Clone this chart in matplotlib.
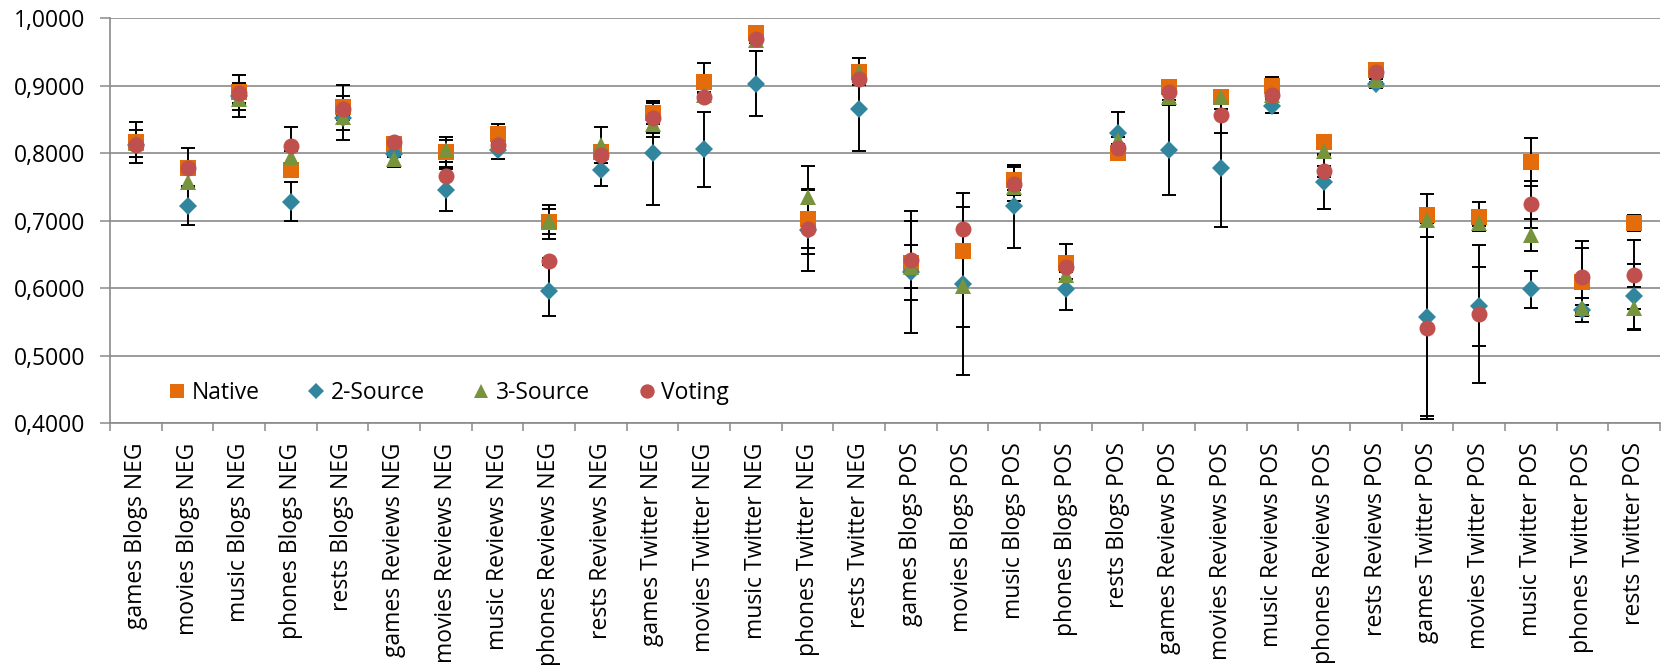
import numpy as np
import matplotlib.pyplot as plt
from matplotlib.lines import Line2D
from matplotlib.ticker import FuncFormatter, FixedLocator

plt.rcParams['font.family'] = ['Open Sans', 'DejaVu Sans']

# categories
labels = ['games Blogs NEG', 'movies Blogs NEG', 'music Blogs NEG', 'phones Blogs NEG', 'rests Blogs NEG',
          'games Reviews NEG', 'movies Reviews NEG', 'music Reviews NEG', 'phones Reviews NEG', 'rests Reviews NEG',
          'games Twitter NEG', 'movies Twitter NEG', 'music Twitter NEG', 'phones Twitter NEG', 'rests Twitter NEG',
          'games Blogs POS', 'movies Blogs POS', 'music Blogs POS', 'phones Blogs POS', 'rests Blogs POS',
          'games Reviews POS', 'movies Reviews POS', 'music Reviews POS', 'phones Reviews POS', 'rests Reviews POS',
          'games Twitter POS', 'movies Twitter POS', 'music Twitter POS', 'phones Twitter POS', 'rests Twitter POS']

# mean values
native = [0.816, 0.778, 0.890, 0.775, 0.868, 0.814, 0.802, 0.829, 0.698, 0.802,
          0.860, 0.906, 0.978, 0.703, 0.921, 0.637, 0.655, 0.760, 0.637, 0.801,
          0.898, 0.884, 0.900, 0.816, 0.923, 0.708, 0.706, 0.787, 0.609, 0.696]
two_src = [0.812, 0.722, 0.885, 0.728, 0.852, 0.799, 0.746, 0.805, 0.596, 0.775,
           0.800, 0.806, 0.903, 0.686, 0.866, 0.624, 0.606, 0.721, 0.599, 0.830,
           0.805, 0.778, 0.870, 0.758, 0.903, 0.557, 0.573, 0.598, 0.567, 0.588]
three_src = [0.815, 0.758, 0.881, 0.794, 0.854, 0.792, 0.805, 0.815, 0.699, 0.812,
             0.844, 0.886, 0.968, 0.735, 0.921, 0.632, 0.603, 0.750, 0.619, 0.819,
             0.884, 0.884, 0.886, 0.804, 0.909, 0.701, 0.697, 0.679, 0.570, 0.570]
voting = [0.812, 0.778, 0.889, 0.811, 0.866, 0.816, 0.766, 0.812, 0.640, 0.797,
          0.852, 0.884, 0.970, 0.687, 0.910, 0.641, 0.688, 0.754, 0.632, 0.807,
          0.891, 0.857, 0.887, 0.773, 0.921, 0.541, 0.562, 0.724, 0.616, 0.620]

# standard deviations (error bars)
native_err = [0.030, 0.005, 0.026, 0.005, 0.033, 0.004, 0.022, 0.014, 0.025, 0.005,
              0.017, 0.027, 0.004, 0.043, 0.005, 0.005, 0.005, 0.022, 0.028, 0.005,
              0.005, 0.005, 0.0125, 0.005, 0.004, 0.032, 0.021, 0.035, 0.050, 0.012]
two_err = [0.005, 0.029, 0.031, 0.029, 0.033, 0.004, 0.031, 0.014, 0.038, 0.023,
           0.077, 0.0555, 0.048, 0.0605, 0.062, 0.090, 0.135, 0.061, 0.032, 0.0305,
           0.067, 0.0875, 0.010, 0.040, 0.007, 0.147, 0.0586, 0.027, 0.0176, 0.048]
three_err = [0.020, 0.009, 0.010, 0.010, 0.005, 0.012, 0.014, 0.005, 0.019, 0.027,
             0.020, 0.005, 0.004, 0.046, 0.0206, 0.032, 0.060, 0.005, 0.005, 0.005,
             0.005, 0.005, 0.005, 0.005, 0.004, 0.005, 0.005, 0.0235, 0.005, 0.032]
voting_err = [0.005, 0.030, 0.015, 0.028, 0.010, 0.004, 0.021, 0.005, 0.005, 0.005,
              0.022, 0.005, 0.004, 0.037, 0.005, 0.059, 0.032, 0.025, 0.005, 0.017,
              0.017, 0.0275, 0.005, 0.008, 0.004, 0.135, 0.102, 0.0345, 0.054, 0.051]

series = [
    ('Native', native, native_err, 's', '#E46C0A', 11.3),
    ('2-Source', two_src, two_err, 'D', '#31859C', 9.0),
    ('3-Source', three_src, three_err, '^', '#77933C', 11.8),
    ('Voting', voting, voting_err, 'o', '#C0504D', 11.5),
]

fig = plt.figure(figsize=(16.61, 6.68), dpi=100)
ax = fig.add_axes([110 / 1661, 1 - 423 / 668, 1550 / 1661, (423 - 18.3) / 668])

x = np.arange(len(labels))

# error bars first, markers on top
for name, vals, err, mk, col, ms in series:
    ax.errorbar(x, vals, yerr=err, fmt='none', ecolor='black', elinewidth=1.4,
                capsize=5, capthick=1.4, zorder=3)

handles = []
for name, vals, err, mk, col, ms in series:
    ax.plot(x, vals, linestyle='none', marker=mk, markersize=ms, color=col,
            markeredgewidth=0, zorder=4)
    handles.append(Line2D([], [], linestyle='none', marker=mk, markersize=ms * 0.9,
                          color=col, markeredgewidth=0, label=name))

ax.set_xlim(-0.5, len(labels) - 0.5)
ax.set_ylim(0.4, 1.0)
ax.set_yticks(np.arange(0.4, 1.0001, 0.1))
ax.yaxis.set_major_formatter(FuncFormatter(lambda v, p: f'{v:.4f}'.replace('.', ',')))
ax.grid(axis='y', color='#8a8a8a', linewidth=1.2, zorder=0)
ax.set_axisbelow(True)

ax.set_xticks(x)
ax.set_xticklabels(labels, rotation=90, va='top', ha='center')
ax.xaxis.set_minor_locator(FixedLocator(np.arange(-0.5, len(labels), 1.0)))
ax.tick_params(axis='x', which='major', length=0, pad=14, labelsize=16.5)
ax.tick_params(axis='x', which='minor', length=6, width=1.1, color='#8a8a8a', direction='out')
ax.tick_params(axis='y', length=7, width=1.1, color='#8a8a8a', pad=11, labelsize=16.5)

for side in ['top', 'right']:
    ax.spines[side].set_visible(False)
for side in ['left', 'bottom']:
    ax.spines[side].set_color('#8a8a8a')
    ax.spines[side].set_linewidth(1.2)

ax.legend(handles=handles, loc='center left', bbox_to_anchor=(0.0374, 0.074), ncol=4,
          frameon=False, fontsize=16.5, handlelength=0.8, handletextpad=0.25,
          columnspacing=2.05, borderaxespad=0, borderpad=0)

fig.savefig('out.png', dpi=100)
